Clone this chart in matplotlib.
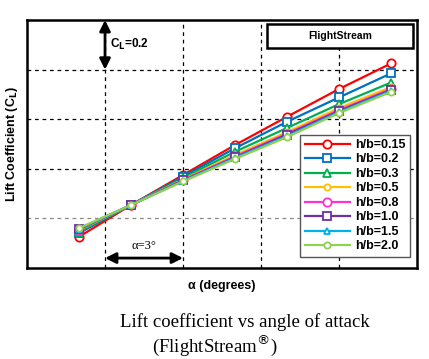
import numpy as np
import matplotlib.pyplot as plt
import matplotlib.patches as mpatches

alpha = [0, 2, 4, 6, 8, 10, 12]
labels = ["h/b=0.15", "h/b=0.2", "h/b=0.3", "h/b=0.5", "h/b=0.8", "h/b=1.0", "h/b=1.5", "h/b=2.0"]
cl_015 = [0.126, 0.254, 0.375, 0.496, 0.610, 0.722, 0.825]
cl_02 = [0.141, 0.254, 0.369, 0.483, 0.590, 0.688, 0.785]
cl_03 = [0.147, 0.254, 0.363, 0.469, 0.565, 0.661, 0.748]
cl_05 = [0.153, 0.254, 0.357, 0.456, 0.548, 0.645, 0.730]
cl_08 = [0.155, 0.254, 0.355, 0.450, 0.542, 0.637, 0.722]
cl_10 = [0.157, 0.254, 0.353, 0.446, 0.538, 0.633, 0.718]
cl_15 = [0.159, 0.254, 0.351, 0.444, 0.532, 0.629, 0.714]
cl_20 = [0.161, 0.254, 0.349, 0.440, 0.528, 0.625, 0.710]
series = [cl_015, cl_02, cl_03, cl_05, cl_08, cl_10, cl_15, cl_20]

col_arr = ["#FF0000", "#0070C0", "#00B050", "#FFC000", "#FF33CC", "#7030A0", "#00B0F0", "#92D050"]
mk_arr = ["o", "s", "^", "o", "o", "s", "^", "o"]
ms_arr = [6, 6, 6, 4.5, 6, 6, 5, 4.5]

plt.rcParams["font.family"] = "Liberation Sans"

fig = plt.figure(figsize=(4.29, 3.59), dpi=100)
ax = fig.add_axes([0.063, 0.2535, 0.909, 0.6905])

for cl, c, m, ms, lab in zip(series, col_arr, mk_arr, ms_arr, labels):
    ax.plot(alpha, cl, color=c, linewidth=1.6, marker=m, markersize=ms,
            markerfacecolor="white", markeredgecolor=c, markeredgewidth=1.3, label=lab)

ax.set_xlim(-2, 13)
ax.set_ylim(0, 1)
ax.set_xticks([1, 4, 7, 10])
ax.set_yticks([0.2, 0.4, 0.6, 0.8])
ax.tick_params(length=0, labelbottom=False, labelleft=False)
ax.grid(True, color="black", linestyle=(0, (3, 3)), linewidth=0.9)
ax.get_ygridlines()[0].set_color("#888888")
for s in ax.spines.values():
    s.set_linewidth(1.8)

ax.set_xlabel("α (degrees)", fontsize=9, fontweight="bold", labelpad=9)
ax.set_ylabel("Lift Coefficient (C$_\\mathbf{L}$)", fontsize=9, fontweight="bold", labelpad=5)

leg = ax.legend(loc="lower right", bbox_to_anchor=(0.997, 0.02),
                prop={"weight": "bold", "size": 9}, handlelength=3.6, handletextpad=0.4,
                labelspacing=0.2, borderpad=0.35, fancybox=False, framealpha=1)
leg.get_frame().set_edgecolor("#555555")
leg.get_frame().set_linewidth(1.0)

# FlightStream box
box = mpatches.Rectangle((0.615, 0.887), 0.375, 0.097, transform=ax.transAxes,
                         facecolor="white", edgecolor="black", linewidth=1.8, zorder=5)
ax.add_patch(box)
ax.text(0.8025, 0.935, "FlightStream", transform=ax.transAxes, ha="center", va="center",
        fontsize=7.5, fontweight="bold", zorder=6)

# scale arrows
ax.annotate("", xy=(1, 1.0), xytext=(1, 0.8),
            arrowprops=dict(arrowstyle="<|-|>", color="black", lw=2, mutation_scale=16,
                            shrinkA=0, shrinkB=0))
ax.text(1.2, 0.9, "C$_\\mathbf{L}$=0.2", fontsize=8.5, fontweight="bold", va="center")
ax.annotate("", xy=(1, 0.04), xytext=(4, 0.04),
            arrowprops=dict(arrowstyle="<|-|>", color="black", lw=2, mutation_scale=16,
                            shrinkA=0, shrinkB=0))
ax.text(2.5, 0.09, "α=3°", fontsize=9, family="Liberation Serif", ha="center", va="center")

fig.text(0.571, 0.102, "Lift coefficient vs angle of attack", fontsize=13.5,
         family="Liberation Serif", ha="center", va="center")
fig.text(0.354, 0.037, "(FlightStream$^{\\circledR}$)", fontsize=13.5,
         family="Liberation Serif", ha="left", va="center")

plt.savefig("out.png", dpi=100)
